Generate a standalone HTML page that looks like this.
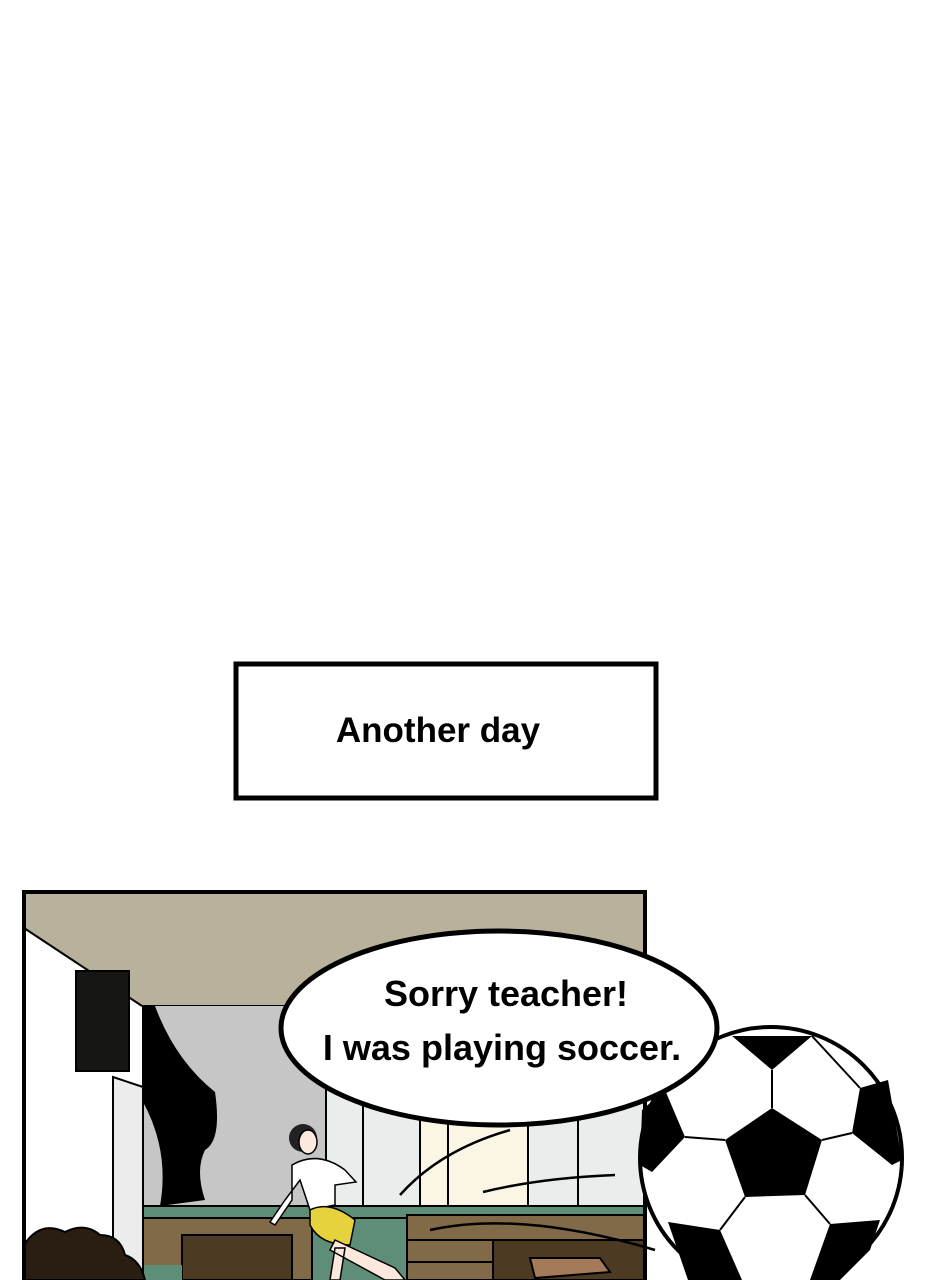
<!DOCTYPE html>
<html><head><meta charset="utf-8"><style>
html,body{margin:0;padding:0;background:#fff;}
svg{display:block}
text{font-family:"Liberation Sans",sans-serif;font-weight:bold;}
</style></head><body>
<svg width="940" height="1280" viewBox="0 0 940 1280" xmlns="http://www.w3.org/2000/svg">
<rect x="236" y="664" width="420" height="134" fill="#fff" stroke="#000" stroke-width="5"/>
<text x="438" y="742" font-size="35" text-anchor="middle">Another day</text>

<rect x="24" y="892" width="621" height="392" fill="#fff"/>
<polygon points="24,892 645,892 645,1006 142,1006 24,928" fill="#b8b29c"/>
<line x1="24" y1="928" x2="142" y2="1006" stroke="#000" stroke-width="2"/>
<line x1="142" y1="1006" x2="645" y2="1006" stroke="#000" stroke-width="2"/>
<rect x="142" y="1006" width="184" height="200" fill="#c6c6c6"/>
<rect x="326" y="1006" width="319" height="200" fill="#e9eeec"/>
<rect x="420" y="1110" width="110" height="96" fill="#faf5e4"/>
<g stroke="#000" stroke-width="2">
<line x1="326" y1="1006" x2="326" y2="1206"/>
<line x1="363" y1="1100" x2="363" y2="1206"/>
<line x1="420" y1="1100" x2="420" y2="1206"/>
<line x1="448" y1="1100" x2="448" y2="1206"/>
<line x1="528" y1="1100" x2="528" y2="1206"/>
<line x1="578" y1="1100" x2="578" y2="1206"/>
</g>
<path d="M142,1006 L155,1006 Q175,1060 215,1092 Q222,1140 205,1150 Q195,1170 205,1200 L160,1206 Q170,1150 142,1100 Z" fill="#000"/>
<rect x="142" y="1206" width="503" height="74" fill="#5f8e78"/>
<rect x="142" y="1206" width="503" height="12" fill="#5f8e78" stroke="#000" stroke-width="2"/>
<rect x="142" y="1218" width="170" height="62" fill="#806a48" stroke="#000" stroke-width="2"/>
<rect x="182" y="1235" width="110" height="45" fill="#4d3a22" stroke="#000" stroke-width="2"/>
<rect x="142" y="1265" width="40" height="15" fill="#5f8e78"/>
<rect x="407" y="1215" width="238" height="65" fill="#806a48" stroke="#000" stroke-width="2"/>
<rect x="493" y="1240" width="152" height="40" fill="#4d3a22" stroke="#000" stroke-width="2"/>
<line x1="407" y1="1240" x2="493" y2="1240" stroke="#000" stroke-width="2"/>
<line x1="407" y1="1262" x2="493" y2="1262" stroke="#000" stroke-width="2"/>
<path d="M530,1258 L600,1258 L610,1272 L535,1278 Z" fill="#a47a58" stroke="#000" stroke-width="2"/>
<rect x="76" y="971" width="53" height="100" fill="#161614" stroke="#000" stroke-width="2"/>
<polygon points="113,1077 143,1087 143,1280 113,1280" fill="#ececec" stroke="#000" stroke-width="2"/>
<circle cx="303" cy="1138" r="14" fill="#222"/>
<ellipse cx="308" cy="1142" rx="9" ry="12" fill="#fce8dc" stroke="#000" stroke-width="1.5"/>
<path d="M292,1165 Q318,1150 345,1170 L356,1182 L335,1185 L335,1205 L310,1210 L300,1180 L285,1200 L270,1222 L275,1225 L292,1200 Z" fill="#fff" stroke="#000" stroke-width="1.5"/>
<path d="M310,1210 Q330,1200 355,1220 L350,1245 Q320,1245 310,1225 Z" fill="#e5d23d" stroke="#000" stroke-width="1.5"/>
<path d="M335,1240 L395,1268 L405,1280 L385,1280 L330,1250 Z M335,1248 L345,1248 L340,1280 L330,1280 Z" fill="#fce8dc" stroke="#000" stroke-width="1.5"/>
<path d="M24,1280 L24,1245 Q40,1220 65,1232 Q85,1222 100,1235 Q120,1235 125,1255 Q140,1260 145,1280 Z" fill="#2a1e12" stroke="#000" stroke-width="2"/>
<g stroke="#000" stroke-width="2.5" fill="none">
<path d="M400,1195 Q440,1150 510,1130"/>
<path d="M483,1192 Q540,1178 615,1175"/>
<path d="M430,1230 Q520,1210 655,1250"/>
</g>
<rect x="24" y="892" width="621" height="392" fill="none" stroke="#000" stroke-width="4"/>

<circle cx="771" cy="1158" r="131" fill="#fff" stroke="#000" stroke-width="4"/>
<g fill="#000">
<polygon points="772,1108 822,1140 805,1195 745,1197 725,1140"/>
<polygon points="732,1036 812,1036 772,1070"/>
<polygon points="860,1088 888,1080 902,1160 892,1165 852,1133"/>
<polygon points="642,1110 665,1090 685,1137 652,1172 640,1165"/>
<polygon points="668,1222 720,1230 742,1280 688,1280"/>
<polygon points="830,1224 880,1220 870,1250 840,1280 810,1280"/>
</g>
<g stroke="#000" stroke-width="2">
<line x1="772" y1="1070" x2="772" y2="1108"/>
<line x1="822" y1="1140" x2="852" y2="1133"/>
<line x1="725" y1="1140" x2="685" y2="1137"/>
<line x1="745" y1="1197" x2="720" y2="1230"/>
<line x1="805" y1="1195" x2="830" y2="1224"/>
<line x1="812" y1="1036" x2="860" y2="1088"/>
</g>

<ellipse cx="499" cy="1028" rx="218" ry="97" fill="#fff" stroke="#000" stroke-width="5"/>
<text x="506" y="1006" font-size="36" text-anchor="middle">Sorry teacher!</text>
<text x="502" y="1060" font-size="36" text-anchor="middle">I was playing soccer.</text>
</svg>
</body></html>
